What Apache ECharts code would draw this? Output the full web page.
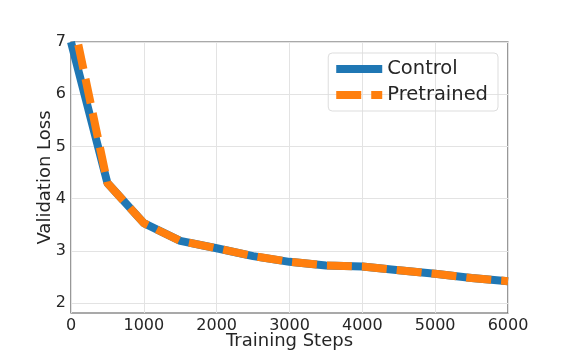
<!DOCTYPE html>
<html>
<head>
<meta charset="utf-8">
<script src="https://cdn.jsdelivr.net/npm/echarts@6/dist/echarts.min.js"></script>
<style>
  html, body { margin: 0; padding: 0; background: #fff; }
  #chart { width: 565px; height: 353px; }
</style>
</head>
<body>
<div id="chart"></div>
<script>
// training steps and losses
var steps = [0, 500, 1000, 1500, 2000, 2500, 3000, 3500, 4000, 4500, 5000, 5500, 6000];
var controlLoss = [7.0, 4.3, 3.53, 3.19, 3.05, 2.9, 2.79, 2.72, 2.7, 2.63, 2.56, 2.48, 2.42];
var pretrainedSteps = [100, 500, 1000, 1500, 2000, 2500, 3000, 3500, 4000, 4500, 5000, 5500, 6000];
var pretrainedLoss = [6.95, 4.3, 3.53, 3.19, 3.05, 2.9, 2.79, 2.72, 2.7, 2.63, 2.56, 2.48, 2.42];
var xTicks = [0, 1000, 2000, 3000, 4000, 5000, 6000];
var yTicks = [2, 3, 4, 5, 6, 7];

var font = "DejaVu Sans";
var chart = echarts.init(document.getElementById("chart"));

function pairs(xs, ys) {
  return xs.map(function (x, i) { return [x, ys[i]]; });
}

var options = {
  backgroundColor: "#FFFFFF",
  animation: false,
  grid: {
    left: 71, right: 57, top: 42, bottom: 40,
    show: true, borderColor: "#555555", borderWidth: 1.2,
    outerBoundsMode: "none", containLabel: false
  },
  legend: {
    right: 67,
    top: 53,
    orient: "vertical",
    itemWidth: 46,
    itemHeight: 16,
    itemGap: 6,
    padding: [6, 10, 6, 4],
    borderColor: "#dddddd",
    borderWidth: 1,
    borderRadius: 4,
    itemStyle: { opacity: 0 },
    lineStyle: { width: 8 },
    textStyle: { fontFamily: font, fontSize: 19.5, color: "#262626" },
    data: ["Control", "Pretrained"]
  },
  xAxis: {
    type: "value",
    min: 0,
    max: 6000,
    interval: 1000,
    name: "Training Steps",
    nameLocation: "middle",
    nameGap: 19,
    nameMoveOverlap: false,
    nameTextStyle: { fontFamily: font, fontSize: 18, color: "#262626" },
    axisLine: { show: false },
    axisTick: { show: false },
    axisLabel: {
      fontFamily: font, fontSize: 16, color: "#262626", margin: 5,
      customValues: xTicks,
      formatter: function (v) { return String(v); }
    },
    splitLine: { lineStyle: { color: "#e3e3e3", width: 1 } }
  },
  yAxis: {
    type: "value",
    min: 1.81,
    max: 7,
    name: "Validation Loss",
    nameLocation: "middle",
    nameGap: 17,
    nameMoveOverlap: false,
    nameTextStyle: { fontFamily: font, fontSize: 18, color: "#262626" },
    axisLine: { show: false },
    axisTick: { show: false, customValues: yTicks },
    axisLabel: { fontFamily: font, fontSize: 16, color: "#262626", margin: 5, customValues: yTicks },
    splitLine: { lineStyle: { color: "#e3e3e3", width: 1 } }
  },
  series: [
    {
      name: "Control",
      type: "line",
      symbol: "none",
      color: "#1f77b4",
      lineStyle: { width: 8, color: "#1f77b4" },
      data: pairs(steps, controlLoss)
    },
    {
      name: "Pretrained",
      type: "line",
      symbol: "none",
      color: "#ff7f0e",
      lineStyle: { width: 8, color: "#ff7f0e", type: [25, 10] },
      data: pairs(pretrainedSteps, pretrainedLoss)
    }
  ]
};

chart.setOption(options);
</script>
</body>
</html>
